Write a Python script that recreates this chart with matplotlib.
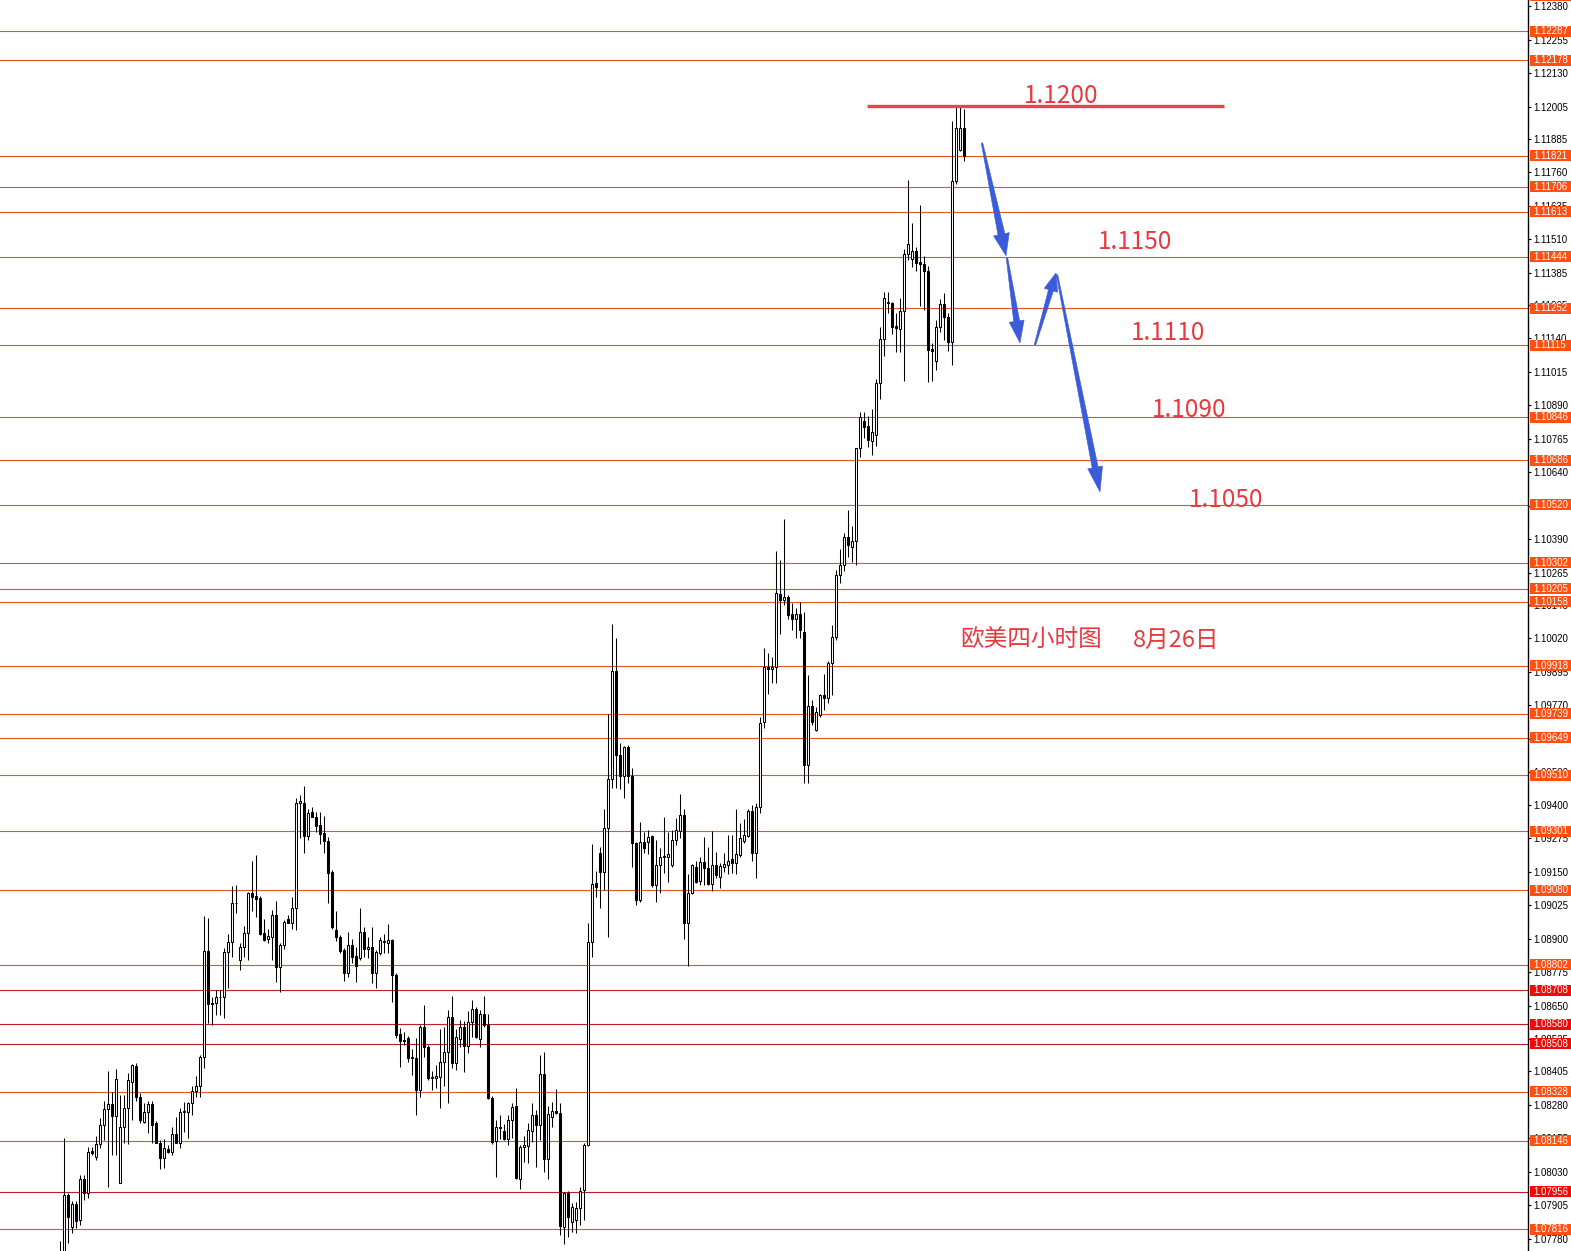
import matplotlib
matplotlib.use("Agg")
import matplotlib.pyplot as plt
from matplotlib.patches import Polygon, Rectangle
from matplotlib.transforms import blended_transform_factory, IdentityTransform
import numpy as np

# EURUSD H4 candles (open / high / low / close), oldest first
opens = [
    1.07694, 1.07716, 1.07944, 1.07824, 1.07910, 1.07850, 1.08003, 1.07951, 1.08108, 1.08085,
    1.08134, 1.08205, 1.08264, 1.08283, 1.08238, 1.07988, 1.08197, 1.08268, 1.08365, 1.08425,
    1.08309, 1.08216, 1.08253, 1.08283, 1.08212, 1.08138, 1.08082, 1.08116, 1.08104, 1.08171,
    1.08138, 1.08253, 1.08253, 1.08287, 1.08331, 1.08350, 1.08458, 1.08854, 1.08656, 1.08660,
    1.08682, 1.08682, 1.08850, 1.08887, 1.09033, 1.08821, 1.08869, 1.08921, 1.09070, 1.09059,
    1.09051, 1.08921, 1.08899, 1.08906, 1.08988, 1.08794, 1.08876, 1.08973, 1.08958, 1.09014,
    1.09406, 1.09406, 1.09283, 1.09372, 1.09354, 1.09324, 1.09294, 1.09264, 1.09148, 1.08932,
    1.08906, 1.08857, 1.08772, 1.08876, 1.08836, 1.08828, 1.08925, 1.08861, 1.08869, 1.08772,
    1.08847, 1.08887, 1.08884, 1.08895, 1.08765, 1.08544, 1.08522, 1.08529, 1.08455, 1.08455,
    1.08335, 1.08570, 1.08496, 1.08380, 1.08380, 1.08384, 1.08440, 1.08477, 1.08608, 1.08436,
    1.08525, 1.08570, 1.08499, 1.08589, 1.08637, 1.08525, 1.08619, 1.08578, 1.08305, 1.08145,
    1.08197, 1.08182, 1.08153, 1.08223, 1.08276, 1.08003, 1.08123, 1.08126, 1.08182, 1.08242,
    1.08205, 1.08395, 1.08078, 1.08235, 1.08257, 1.08250, 1.07824, 1.07951, 1.07843, 1.07850,
    1.07895, 1.07962, 1.08130, 1.08887, 1.09107, 1.09219, 1.09148, 1.09313, 1.09496, 1.09899,
    1.09586, 1.09507, 1.09616, 1.09507, 1.09257, 1.09044, 1.09260, 1.09260, 1.09283, 1.09100,
    1.09175, 1.09205, 1.09205, 1.09175, 1.09268, 1.09301, 1.09361, 1.08958, 1.09070, 1.09167,
    1.09115, 1.09186, 1.09164, 1.09104, 1.09175, 1.09130, 1.09167, 1.09175, 1.09197, 1.09182,
    1.09212, 1.09264, 1.09283, 1.09376, 1.09219, 1.09391, 1.09709, 1.09914, 1.09907, 1.09914,
    1.10186, 1.10164, 1.10175, 1.10112, 1.10093, 1.10112, 1.10045, 1.09548, 1.09769, 1.09679,
    1.09735, 1.09810, 1.09798, 1.09929, 1.10026, 1.10257, 1.10295, 1.10399, 1.10362, 1.10384,
    1.10731, 1.10832, 1.10813, 1.10757, 1.10779, 1.10973, 1.11138, 1.11272, 1.11272, 1.11186,
    1.11175, 1.11242, 1.11455, 1.11437, 1.11467, 1.11425, 1.11418, 1.11392, 1.11100, 1.11055,
    1.11182, 1.11269, 1.11220, 1.11127, 1.11727, 1.11843, 1.11925,
]
highs = [
    1.07772, 1.08156, 1.07951, 1.07921, 1.07921, 1.08018, 1.08018, 1.08123, 1.08123, 1.08164,
    1.08231, 1.08294, 1.08406, 1.08328, 1.08413, 1.08316, 1.08316, 1.08399, 1.08432, 1.08436,
    1.08324, 1.08287, 1.08294, 1.08294, 1.08220, 1.08149, 1.08153, 1.08130, 1.08197, 1.08234,
    1.08268, 1.08291, 1.08291, 1.08350, 1.08387, 1.08466, 1.08984, 1.08976, 1.08682, 1.08708,
    1.08708, 1.08865, 1.08917, 1.09096, 1.09100, 1.08884, 1.08947, 1.09074, 1.09190, 1.09212,
    1.09059, 1.08973, 1.08936, 1.09007, 1.09040, 1.08884, 1.08969, 1.08988, 1.09055, 1.09425,
    1.09436, 1.09470, 1.09383, 1.09391, 1.09372, 1.09372, 1.09357, 1.09279, 1.09156, 1.09003,
    1.08913, 1.08865, 1.08925, 1.08899, 1.08869, 1.09014, 1.08943, 1.08906, 1.08943, 1.08857,
    1.08906, 1.08917, 1.08954, 1.08899, 1.08772, 1.08566, 1.08552, 1.08537, 1.08488, 1.08529,
    1.08578, 1.08652, 1.08503, 1.08406, 1.08428, 1.08563, 1.08570, 1.08634, 1.08686, 1.08563,
    1.08596, 1.08593, 1.08630, 1.08671, 1.08645, 1.08634, 1.08686, 1.08619, 1.08313, 1.08223,
    1.08242, 1.08208, 1.08242, 1.08287, 1.08343, 1.08130, 1.08164, 1.08212, 1.08287, 1.08261,
    1.08466, 1.08477, 1.08276, 1.08291, 1.08339, 1.08287, 1.07955, 1.07959, 1.07914, 1.07918,
    1.07973, 1.08138, 1.08958, 1.09253, 1.09152, 1.09242, 1.09383, 1.09739, 1.10074, 1.10022,
    1.09631, 1.09619, 1.09623, 1.09537, 1.09260, 1.09335, 1.09298, 1.09305, 1.09287, 1.09268,
    1.09238, 1.09354, 1.09298, 1.09305, 1.09350, 1.09440, 1.09383, 1.09141, 1.09178, 1.09190,
    1.09205, 1.09279, 1.09242, 1.09301, 1.09223, 1.09182, 1.09219, 1.09287, 1.09287, 1.09383,
    1.09331, 1.09346, 1.09383, 1.09398, 1.09406, 1.09728, 1.09985, 1.09966, 1.09952, 1.10347,
    1.10313, 1.10466, 1.10183, 1.10153, 1.10134, 1.10157, 1.10119, 1.09884, 1.09791, 1.09765,
    1.09813, 1.09888, 1.09936, 1.10071, 1.10276, 1.10354, 1.10414, 1.10500, 1.10440, 1.10731,
    1.10865, 1.10865, 1.10850, 1.10876, 1.10988, 1.11182, 1.11314, 1.11314, 1.11276, 1.11235,
    1.11291, 1.11474, 1.11732, 1.11571, 1.11482, 1.11638, 1.11448, 1.11411, 1.11123, 1.11209,
    1.11287, 1.11310, 1.11235, 1.11952, 1.12004, 1.12004, 1.11996,
]
lows = [
    1.07664, 1.07694, 1.07765, 1.07802, 1.07820, 1.07832, 1.07925, 1.07932, 1.08093, 1.08074,
    1.08119, 1.08149, 1.07973, 1.08093, 1.08093, 1.07988, 1.08138, 1.08134, 1.08223, 1.08294,
    1.08212, 1.08212, 1.08175, 1.08138, 1.08138, 1.08040, 1.08044, 1.08101, 1.08093, 1.08138,
    1.08119, 1.08179, 1.08156, 1.08242, 1.08309, 1.08309, 1.08417, 1.08585, 1.08578, 1.08615,
    1.08615, 1.08604, 1.08716, 1.08832, 1.08995, 1.08783, 1.08832, 1.08821, 1.09003, 1.08980,
    1.08913, 1.08891, 1.08884, 1.08821, 1.08739, 1.08701, 1.08861, 1.08958, 1.08936, 1.08932,
    1.09275, 1.09219, 1.09268, 1.09354, 1.09298, 1.09253, 1.09219, 1.09033, 1.08936, 1.08891,
    1.08847, 1.08742, 1.08757, 1.08809, 1.08739, 1.08821, 1.08832, 1.08828, 1.08735, 1.08716,
    1.08839, 1.08847, 1.08847, 1.08664, 1.08529, 1.08421, 1.08503, 1.08440, 1.08391, 1.08242,
    1.08309, 1.08458, 1.08372, 1.08335, 1.08343, 1.08268, 1.08350, 1.08287, 1.08417, 1.08410,
    1.08496, 1.08402, 1.08473, 1.08533, 1.08529, 1.08496, 1.08570, 1.08302, 1.08134, 1.08011,
    1.08153, 1.08149, 1.08130, 1.08156, 1.08003, 1.07966, 1.08067, 1.08063, 1.08141, 1.08048,
    1.08149, 1.08029, 1.08003, 1.08197, 1.08246, 1.07794, 1.07761, 1.07787, 1.07806, 1.07802,
    1.07832, 1.07850, 1.08126, 1.08832, 1.09055, 1.09014, 1.09081, 1.08906, 1.09462, 1.09462,
    1.09458, 1.09425, 1.09481, 1.09167, 1.09025, 1.09036, 1.09219, 1.09216, 1.09093, 1.09036,
    1.09070, 1.09145, 1.09111, 1.09167, 1.09249, 1.09275, 1.08899, 1.08798, 1.09066, 1.09107,
    1.09100, 1.09100, 1.09100, 1.09078, 1.09126, 1.09089, 1.09148, 1.09141, 1.09145, 1.09141,
    1.09205, 1.09257, 1.09279, 1.09190, 1.09126, 1.09369, 1.09687, 1.09813, 1.09854, 1.09854,
    1.10037, 1.10145, 1.10093, 1.10052, 1.10022, 1.10022, 1.09481, 1.09481, 1.09698, 1.09675,
    1.09728, 1.09754, 1.09780, 1.09810, 1.10015, 1.10228, 1.10272, 1.10324, 1.10306, 1.10294,
    1.10697, 1.10768, 1.10735, 1.10705, 1.10738, 1.10914, 1.11074, 1.11235, 1.11156, 1.11089,
    1.11089, 1.10980, 1.11433, 1.11407, 1.11392, 1.11261, 1.11246, 1.10977, 1.10980, 1.11022,
    1.11164, 1.11134, 1.11093, 1.11041, 1.11716, 1.11839, 1.11802,
]
closes = [
    1.07716, 1.07944, 1.07862, 1.07910, 1.07847, 1.08003, 1.07951, 1.08104, 1.08101, 1.08134,
    1.08205, 1.08264, 1.08283, 1.08238, 1.08376, 1.08197, 1.08268, 1.08372, 1.08428, 1.08309,
    1.08223, 1.08253, 1.08283, 1.08205, 1.08138, 1.08082, 1.08119, 1.08104, 1.08171, 1.08138,
    1.08253, 1.08257, 1.08287, 1.08331, 1.08350, 1.08458, 1.08854, 1.08656, 1.08660, 1.08682,
    1.08682, 1.08850, 1.08887, 1.09033, 1.09033, 1.08869, 1.08921, 1.09070, 1.09055, 1.09048,
    1.08917, 1.08895, 1.08910, 1.08988, 1.08794, 1.08876, 1.08962, 1.08958, 1.09014, 1.09406,
    1.09413, 1.09283, 1.09368, 1.09354, 1.09320, 1.09290, 1.09264, 1.09145, 1.08943, 1.08906,
    1.08854, 1.08772, 1.08876, 1.08832, 1.08798, 1.08925, 1.08861, 1.08869, 1.08772, 1.08850,
    1.08895, 1.08891, 1.08895, 1.08765, 1.08540, 1.08518, 1.08518, 1.08455, 1.08458, 1.08335,
    1.08570, 1.08496, 1.08380, 1.08384, 1.08387, 1.08440, 1.08477, 1.08608, 1.08436, 1.08533,
    1.08570, 1.08499, 1.08589, 1.08637, 1.08533, 1.08619, 1.08578, 1.08305, 1.08141, 1.08197,
    1.08194, 1.08153, 1.08223, 1.08272, 1.08007, 1.08123, 1.08130, 1.08186, 1.08242, 1.08205,
    1.08395, 1.08078, 1.08246, 1.08257, 1.08250, 1.07828, 1.07951, 1.07862, 1.07899, 1.07895,
    1.07959, 1.08130, 1.08887, 1.09104, 1.09093, 1.09148, 1.09313, 1.09496, 1.09899, 1.09586,
    1.09507, 1.09616, 1.09507, 1.09257, 1.09044, 1.09260, 1.09238, 1.09279, 1.09100, 1.09175,
    1.09205, 1.09208, 1.09216, 1.09268, 1.09305, 1.09361, 1.08958, 1.09070, 1.09175, 1.09111,
    1.09186, 1.09164, 1.09104, 1.09175, 1.09137, 1.09171, 1.09178, 1.09190, 1.09182, 1.09216,
    1.09275, 1.09287, 1.09376, 1.09219, 1.09391, 1.09705, 1.09914, 1.09907, 1.09914, 1.10190,
    1.10164, 1.10175, 1.10108, 1.10093, 1.10112, 1.10052, 1.09548, 1.09769, 1.09709, 1.09746,
    1.09810, 1.09798, 1.09929, 1.10026, 1.10257, 1.10295, 1.10399, 1.10368, 1.10384, 1.10731,
    1.10847, 1.10809, 1.10761, 1.10791, 1.10973, 1.11138, 1.11291, 1.11276, 1.11182, 1.11179,
    1.11242, 1.11455, 1.11493, 1.11467, 1.11422, 1.11418, 1.11392, 1.11096, 1.11093, 1.11182,
    1.11269, 1.11220, 1.11127, 1.11727, 1.11925, 1.11925, 1.11821,
]

# horizontal support / resistance levels
orange_levels = [1.12418, 1.12287, 1.12178, 1.11821, 1.11706, 1.11613, 1.11444, 1.11252,
                 1.11115, 1.10846, 1.10686, 1.10520, 1.10302, 1.10205, 1.10158, 1.09918,
                 1.09739, 1.09649, 1.09510, 1.09301, 1.09080, 1.08802, 1.08328, 1.08146,
                 1.07816]
red_levels = [1.08708, 1.08580, 1.08508, 1.07956]

price_ticks = [1.12380, 1.12255, 1.12130, 1.12005, 1.11885, 1.11760, 1.11635, 1.11510,
               1.11385, 1.11265, 1.11140, 1.11015, 1.10890, 1.10765, 1.10640, 1.10515,
               1.10390, 1.10265, 1.10145, 1.10020, 1.09895, 1.09770, 1.09645, 1.09520,
               1.09400, 1.09275, 1.09150, 1.09025, 1.08900, 1.08775, 1.08650, 1.08525,
               1.08405, 1.08280, 1.08155, 1.08030, 1.07905, 1.07780]

# target labels (text, bar index, price)
target_text = ["1.1200", "1.1150", "1.1110", "1.1090", "1.1050"]
target_x = [250.25, 268.75, 277.0, 282.25, 291.5]
target_y = [1.12043, 1.11498, 1.11159, 1.10871, 1.10535]

top_line = 1.12008
top_line_x = (201.75, 291.0)

# projected path arrows: (tail bar, tail price, tip bar, tip price)
arrows = [
    (230.5, 1.11869, 236.5, 1.11448),
    (236.75, 1.11440, 240.0, 1.11123),
    (243.75, 1.11116, 249.0, 1.11384),
    (249.25, 1.11377, 260.0, 1.10567),
]

W, H = 1571, 1251
SPINE_X = 1528
ymin, ymax = 1.077343, 1.124027
ppx = (ymax - ymin) / H  # price per pixel

ORANGE_LINE = "#e2581c"
RED_LINE = "#bf1d2a"
ORANGE_BOX = "#ff4f12"
RED_BOX = "#f00a0a"
TXT_RED = "#e8393f"
BLUE = "#3b5bd9"

fig = plt.figure(figsize=(W / 100, H / 100), dpi=100)
fig.patch.set_facecolor("white")
ax = fig.add_axes([0, 0, SPINE_X / W, 1])
ax.set_facecolor("white")
ax.set_xlim(-15, 367)
ax.set_ylim(ymin, ymax)

for s in ["top", "left", "bottom"]:
    ax.spines[s].set_visible(False)
ax.spines["right"].set_color("black")
ax.spines["right"].set_linewidth(1.0)
ax.set_xticks([])
ax.yaxis.tick_right()
ax.set_yticks(price_ticks)
ax.set_yticklabels([f"{v:.5f}" for v in price_ticks])
ax.tick_params(axis="y", length=2.5, width=0.8, pad=1.5, labelsize=7,
               labelfontfamily="Liberation Sans", colors="black")

x = np.arange(len(closes))
o = np.array(opens)
h = np.array(highs)
l = np.array(lows)
c = np.array(closes)

# levels
for lv in orange_levels:
    ax.axhline(lv, color=ORANGE_LINE, lw=0.8, zorder=1)
for lv in red_levels:
    ax.axhline(lv, color=RED_LINE, lw=0.8, zorder=1)

# candles
ax.vlines(x, l, h, color="black", lw=0.75, zorder=2)
bull = c >= o
ax.bar(x[bull], (c - o)[bull], bottom=o[bull], width=0.5, color="white",
       edgecolor="black", linewidth=0.75, zorder=3)
ax.bar(x[~bull], (o - c)[~bull], bottom=c[~bull], width=0.5, color="black",
       edgecolor="black", linewidth=0.75, zorder=3)

# price boxes on the right scale (figure-level so they sit above tick labels)
blend = blended_transform_factory(ax.transAxes, ax.transData)
x0 = 1 + 2 / SPINE_X
for levels, col in [(orange_levels, ORANGE_BOX), (red_levels, RED_BOX)]:
    for lv in levels:
        fig.add_artist(Rectangle((x0, lv - 5.5 * ppx), 42 / SPINE_X, 11 * ppx,
                                 transform=blend, facecolor=col, edgecolor="none",
                                 zorder=5))
        t = fig.text(1 + 5 / SPINE_X, lv, f"{lv:.5f}", color="white", fontsize=7,
                     family="Liberation Sans", ha="left", va="center", zorder=6)
        t.set_transform(blend)

# 1.1200 resistance
ax.hlines(top_line, top_line_x[0], top_line_x[1], color="#e94549", lw=2.4, zorder=4)

for t, tx, ty in zip(target_text, target_x, target_y):
    ax.text(tx, ty, t, color=TXT_RED, fontsize=17.5, family="Noto Sans CJK SC",
            fontweight="light", ha="center", va="center", zorder=6)

ax.text(242.75, 1.10012, "欧美四小时图", color=TXT_RED, fontsize=17,
        family="Noto Sans CJK SC", fontweight="light", ha="center", va="center", zorder=6)
ax.text(279.0, 1.10012, "8月26日", color=TXT_RED, fontsize=17,
        family="Noto Sans CJK SC", fontweight="light", ha="center", va="center", zorder=6)


def tapered_arrow(x0, y0, x1, y1, head_len=22, head_w=16, body_w=6, tail_w=1.5):
    a = ax.transData.transform((x0, y0))
    b = ax.transData.transform((x1, y1))
    d = b - a
    u = d / np.hypot(*d)
    n = np.array([-u[1], u[0]])
    base = b - u * head_len
    pts = [a + n * tail_w / 2, base + n * body_w / 2, base + n * head_w / 2, b,
           base - n * head_w / 2, base - n * body_w / 2, a - n * tail_w / 2]
    ax.add_patch(Polygon(pts, closed=True, transform=IdentityTransform(),
                         facecolor=BLUE, edgecolor=BLUE, lw=0.4, zorder=7))


arrow_heads = [(22, 16, 7), (22, 15, 6), (18, 14, 5), (25, 15, 6)]
for (ax0, ay0, ax1, ay1), (hl, hw, bw) in zip(arrows, arrow_heads):
    tapered_arrow(ax0, ay0, ax1, ay1, hl, hw, bw)

fig.savefig("out.png", dpi=100)
